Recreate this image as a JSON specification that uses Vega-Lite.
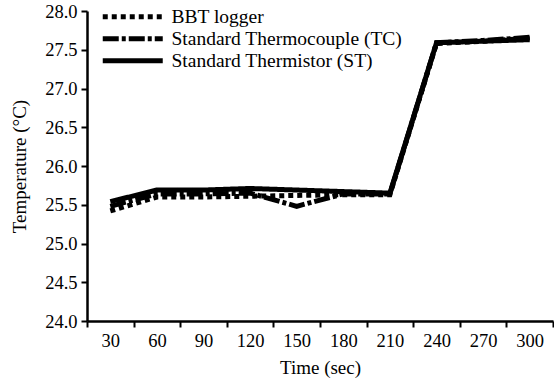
{
  "$schema": "https://vega.github.io/schema/vega-lite/v6.json",
  "width": 466,
  "height": 310,
  "autosize": "none",
  "padding": {"left": 87, "top": 11, "right": 1, "bottom": 60},
  "background": "white",
  "config": {
    "view": {"stroke": null},
    "font": "Liberation Serif",
    "axis": {
      "labelFont": "Liberation Serif",
      "titleFont": "Liberation Serif",
      "labelFontSize": 18.5,
      "titleFontSize": 19,
      "labelColor": "black",
      "titleColor": "black",
      "titleFontWeight": "normal",
      "domainColor": "black",
      "tickColor": "black",
      "domainWidth": 2.5,
      "tickWidth": 2,
      "tickSize": 6,
      "grid": false
    },
    "legend": {
      "labelFont": "Liberation Serif",
      "labelFontSize": 19.5,
      "labelColor": "black",
      "labelLimit": 0
    }
  },
  "data": {
    "values": [
      {"time": 30, "series": "BBT logger", "temp": 25.42},
      {"time": 60, "series": "BBT logger", "temp": 25.60},
      {"time": 90, "series": "BBT logger", "temp": 25.60},
      {"time": 120, "series": "BBT logger", "temp": 25.61},
      {"time": 150, "series": "BBT logger", "temp": 25.62},
      {"time": 180, "series": "BBT logger", "temp": 25.63},
      {"time": 210, "series": "BBT logger", "temp": 25.63},
      {"time": 240, "series": "BBT logger", "temp": 27.58},
      {"time": 270, "series": "BBT logger", "temp": 27.61},
      {"time": 300, "series": "BBT logger", "temp": 27.65},
      {"time": 30, "series": "Standard Thermocouple (TC)", "temp": 25.48},
      {"time": 60, "series": "Standard Thermocouple (TC)", "temp": 25.64},
      {"time": 90, "series": "Standard Thermocouple (TC)", "temp": 25.64},
      {"time": 120, "series": "Standard Thermocouple (TC)", "temp": 25.65},
      {"time": 150, "series": "Standard Thermocouple (TC)", "temp": 25.48},
      {"time": 180, "series": "Standard Thermocouple (TC)", "temp": 25.64},
      {"time": 210, "series": "Standard Thermocouple (TC)", "temp": 25.64},
      {"time": 240, "series": "Standard Thermocouple (TC)", "temp": 27.59},
      {"time": 270, "series": "Standard Thermocouple (TC)", "temp": 27.62},
      {"time": 300, "series": "Standard Thermocouple (TC)", "temp": 27.66},
      {"time": 30, "series": "Standard Thermistor (ST)", "temp": 25.54},
      {"time": 60, "series": "Standard Thermistor (ST)", "temp": 25.69},
      {"time": 90, "series": "Standard Thermistor (ST)", "temp": 25.69},
      {"time": 120, "series": "Standard Thermistor (ST)", "temp": 25.71},
      {"time": 150, "series": "Standard Thermistor (ST)", "temp": 25.69},
      {"time": 180, "series": "Standard Thermistor (ST)", "temp": 25.67},
      {"time": 210, "series": "Standard Thermistor (ST)", "temp": 25.65},
      {"time": 240, "series": "Standard Thermistor (ST)", "temp": 27.59},
      {"time": 270, "series": "Standard Thermistor (ST)", "temp": 27.61},
      {"time": 300, "series": "Standard Thermistor (ST)", "temp": 27.63}
    ]
  },
  "mark": {"type": "line", "color": "black", "strokeWidth": 5, "strokeCap": "butt", "strokeJoin": "miter"},
  "encoding": {
    "x": {
      "field": "time",
      "type": "ordinal",
      "bandPosition": 0.5,
      "scale": {"type": "band", "paddingInner": 0, "paddingOuter": 0},
      "axis": {
        "title": "Time (sec)",
        "titleFontWeight": "normal",
        "titleFont": "Liberation Serif",
        "labelAngle": 0,
        "tickBand": "extent",
        "labelPadding": 4,
        "titlePadding": 9
      }
    },
    "y": {
      "field": "temp",
      "type": "quantitative",
      "scale": {"domain": [24, 28], "nice": false, "zero": false},
      "axis": {
        "title": "Temperature (°C)",
        "titleFontWeight": "normal",
        "titleFont": "Liberation Serif",
        "values": [24, 24.5, 25, 25.5, 26, 26.5, 27, 27.5, 28],
        "format": ".1f",
        "labelPadding": 4,
        "titlePadding": 15
      }
    },
    "strokeDash": {
      "field": "series",
      "type": "nominal",
      "scale": {
        "domain": ["BBT logger", "Standard Thermocouple (TC)", "Standard Thermistor (ST)"],
        "range": [[5, 4], [16, 3, 4, 3], [1, 0]]
      },
      "legend": {
        "title": null,
        "orient": "none",
        "legendX": 36,
        "legendY": -4,
        "padding": 0,
        "symbolType": "M-6,0H6",
        "symbolSize": 100,
        "symbolStrokeWidth": 5,
        "symbolStrokeColor": "black",
        "symbolFillColor": "transparent",
        "labelOffset": 29,
        "labelLimit": 0,
        "rowPadding": 1
      }
    }
  }
}
